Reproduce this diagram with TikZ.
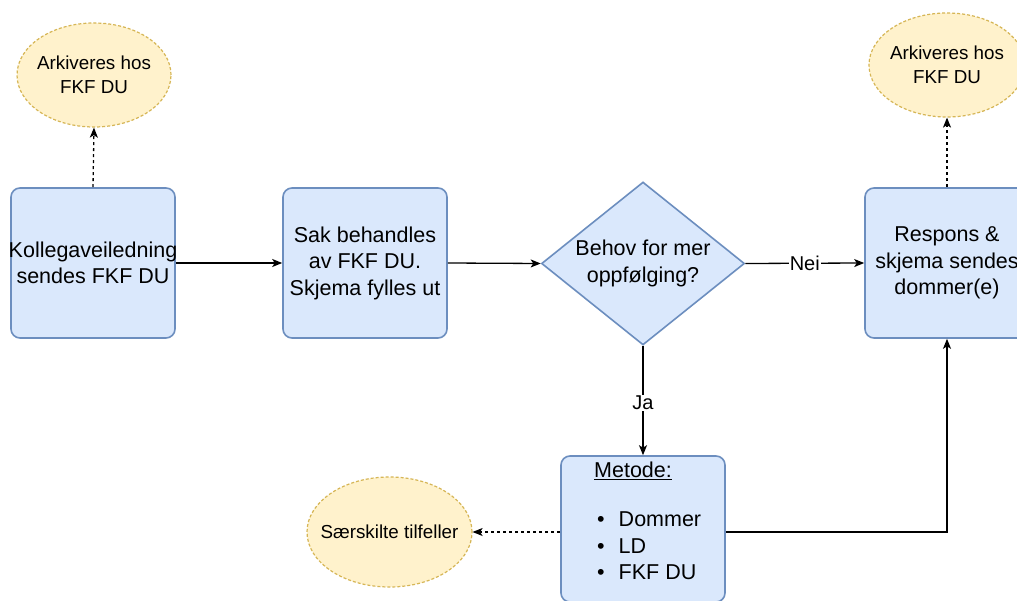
\documentclass[tikz,border=0pt]{standalone}
\usepackage{fontspec}
\setmainfont{Liberation Sans}
\usetikzlibrary{arrows.meta,shapes.geometric}
\definecolor{boxfill}{HTML}{DAE8FC}
\definecolor{boxdraw}{HTML}{6C8EBF}
\definecolor{elfill}{HTML}{FFF2CC}
\definecolor{eldraw}{HTML}{D6B656}
\begin{document}
\begin{tikzpicture}[x=1pt,y=-1pt,
  procbox/.style={draw=boxdraw, fill=boxfill, line width=1.6pt, rounded corners=9pt,
    minimum width=164pt, minimum height=150pt, inner sep=0pt, align=center,
    font=\fontsize{21.5}{26.5}\selectfont},
  decision/.style={draw=boxdraw, fill=boxfill, line width=1.6pt, shape=diamond, aspect=1.245,
    minimum width=203pt, minimum height=163pt, inner sep=0pt, align=center,
    font=\fontsize{21.5}{26.5}\selectfont},
  archive/.style={draw=eldraw, fill=elfill, line width=1.2pt, dash pattern=on 3pt off 2pt,
    shape=ellipse, minimum width=154pt, minimum height=104pt, inner sep=-22pt, align=center,
    font=\fontsize{18.8}{24.5}\selectfont},
  flow/.style={line width=1.3pt, -{Stealth[length=10pt,width=8pt,inset=2.5pt]}},
  dflow/.style={flow, dash pattern=on 3pt off 3pt},
  lbl/.style={fill=white, inner sep=1pt, font=\fontsize{20}{24}\selectfont},
  txt/.style={inner sep=0pt, anchor=west, font=\fontsize{21.5}{26.5}\selectfont}
]
\useasboundingbox (0,0) rectangle (1017,601);
\fill[white] (0,0) rectangle (1017,601);

\node[procbox] (b1) at (93,263) {\makebox[0pt]{Kollegaveiledning}\\sendes FKF DU};
\node[procbox] (b2) at (365,263) {Sak behandles\\av FKF DU.\\Skjema fylles ut};
\node[decision] (dia) at (643,263.5) {Behov for mer\\oppfølging?};
\node[procbox] (b3) at (947,263) {Respons \&\\skjema sendes\\dommer(e)};
\node[procbox, minimum height=146pt] (m) at (643,529) {};
\node[txt, anchor=center] (mt) at (633,471) {\underline{Metode:}};
\node[txt] (l1) at (597,519) {•\hspace{14pt}Dommer};
\node[txt] (l2) at (597,546) {•\hspace{14pt}LD};
\node[txt] (l3) at (597,572) {•\hspace{14pt}FKF DU};

\node[archive] (e1) at (94,75) {Arkiveres hos\\FKF DU};
\node[archive, minimum width=156pt] (e2) at (947,65) {Arkiveres hos\\FKF DU};
\node[archive, minimum width=165pt, minimum height=110pt] (e3) at (389.5,532) {Særskilte tilfeller};

\coordinate (mr) at ([yshift=-3pt]m.east);
\coordinate (ml) at ([yshift=-3pt]m.west);

\draw[flow] (b1.east) -- (b2.west);
\draw[flow] (b2.east) -- (dia.west);
\draw[flow] (dia.east) -- node[lbl] (nei) {Nei} (b3.west);
\draw[flow] (dia.south) -- node[lbl, pos=0.52] (ja) {Ja} (m.north);
\draw[flow] (mr) -| (b3.south);
\draw[dflow] (ml) -- (e3.east);
\draw[dflow] (b1.north) -- (e1.south);
\draw[dflow] (b3.north) -- (e2.south);
\end{tikzpicture}
\end{document}
